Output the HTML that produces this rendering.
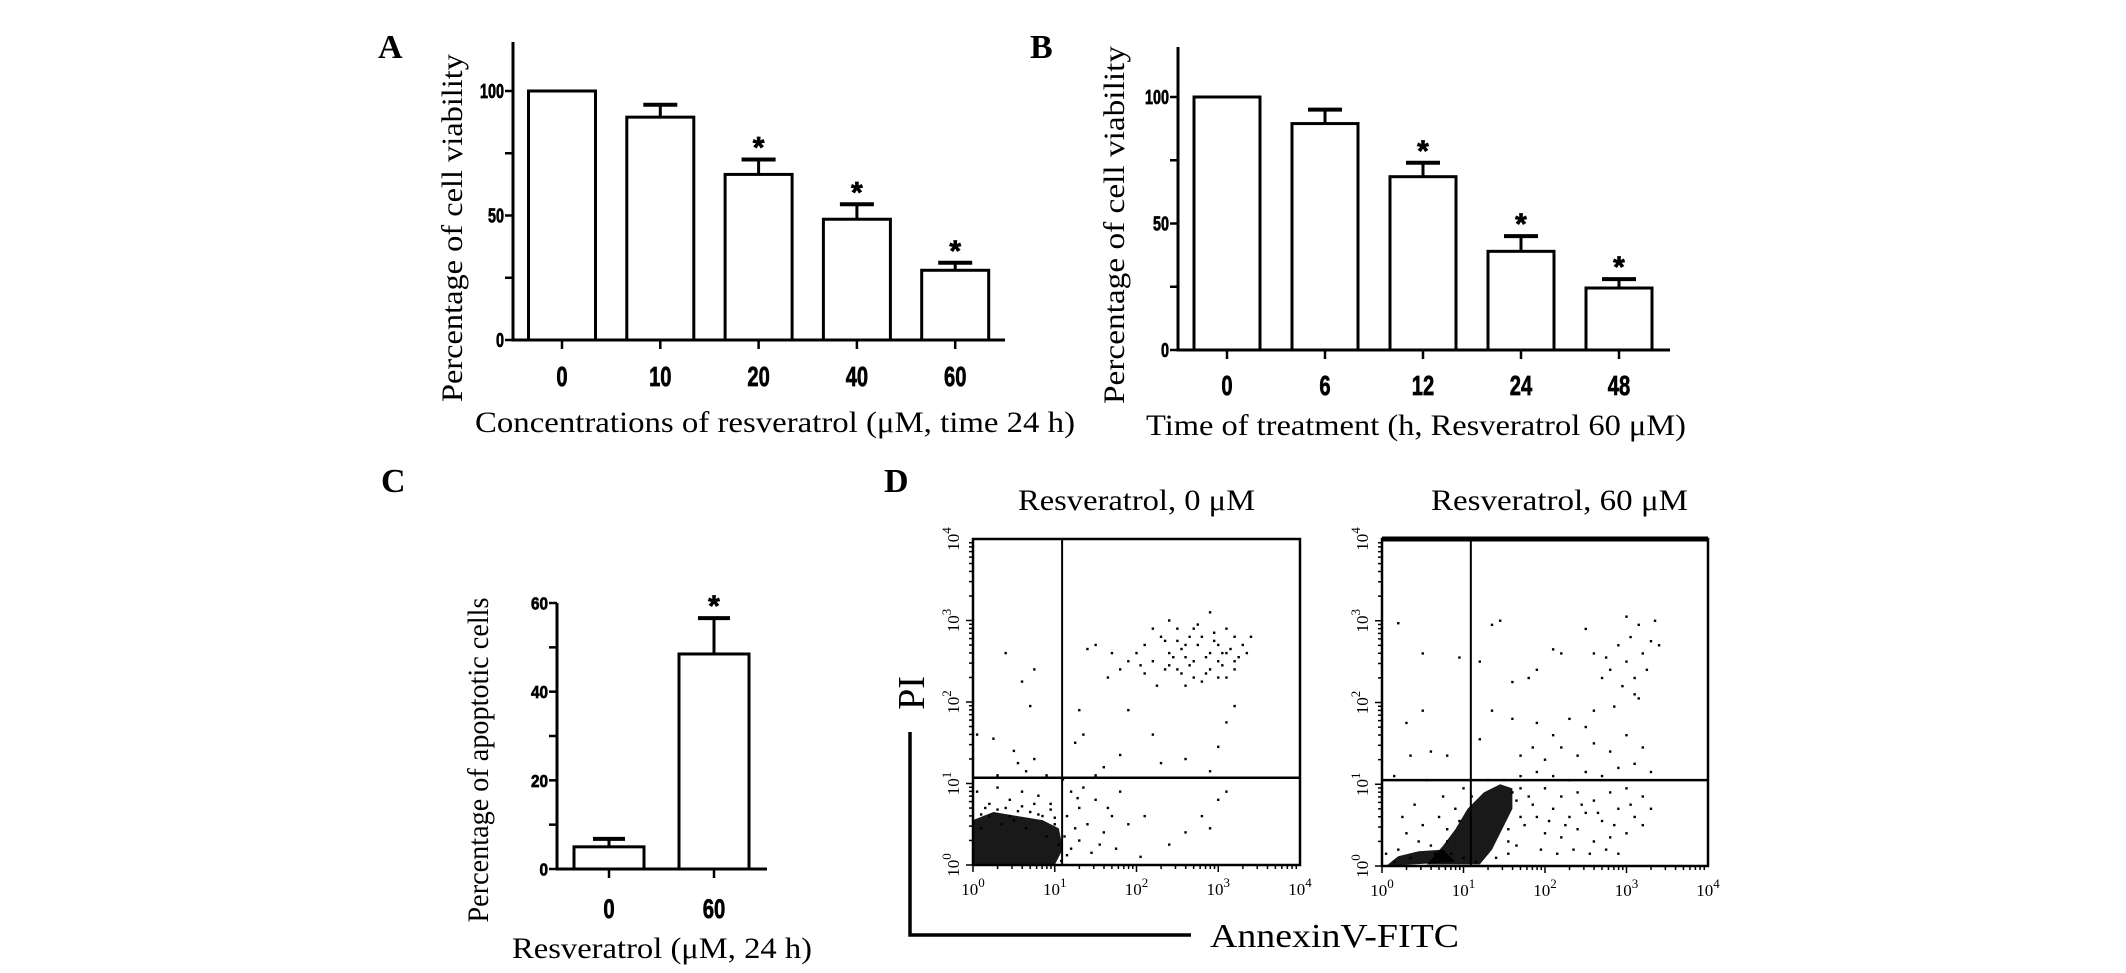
<!DOCTYPE html>
<html><head><meta charset="utf-8">
<style>
html,body{margin:0;padding:0;background:#fff;}
svg{display:block;}
.serif{font-family:"Liberation Serif",serif;fill:#000;}
.tick{font-family:"Liberation Sans",sans-serif;font-weight:bold;fill:#000;stroke:#000;stroke-width:0.7;}
</style></head>
<body>
<svg id="fig" width="2126" height="973" viewBox="0 0 2126 973" xmlns="http://www.w3.org/2000/svg">
<rect width="2126" height="973" fill="#fff"/>
<text class="serif" x="378" y="58" font-size="34" font-weight="bold">A</text>
<text class="serif" x="1030" y="58" font-size="34" font-weight="bold">B</text>
<text class="serif" x="381" y="492" font-size="34" font-weight="bold">C</text>
<text class="serif" x="884" y="492" font-size="34" font-weight="bold">D</text>
<g id="gA"></g>
<g id="gB"></g>
<g id="gC"></g>
<g id="gD"></g>
</svg>
<script>
// ---- Panel A data ----
const catsA = ["0","10","20","40","60"];
const valsA = [100, 89.5, 66.5, 48.5, 28];
const errA  = [0, 94.5, 72.5, 54.5, 31];
const sigA  = [false,false,true,true,true];
const yTicksA = [0,25,50,75,100];
const yLabelsA = ["0","","50","","100"];
// ---- Panel B data ----
const catsB = ["0","6","12","24","48"];
const valsB = [100, 89.5, 68.5, 39, 24.5];
const errB  = [0, 95, 74, 45, 28];
const sigB  = [false,false,true,true,true];
const yTicksB = [0,25,50,75,100];
const yLabelsB = ["0","","50","","100"];
// ---- Panel C data ----
const catsC = ["0","60"];
const valsC = [5, 48.5];
const errC  = [6.8, 56.6];
const sigC  = [false,true];
const yTicksC = [0,10,20,30,40,50,60];
const yLabelsC = ["0","","20","","40","","60"];
// ---- Panel D data (log10 units) ----
const ctrlPts = [[2.0,2.6],[2.1,2.7],[2.2,2.5],[2.3,2.8],[2.4,2.6],[2.5,2.4],[2.5,2.9],[2.6,2.7],[2.7,2.5],[2.7,2.3],[2.8,2.8],[2.9,2.6],[2.9,2.4],[3.0,2.7],[3.0,2.5],[3.1,2.6],[3.1,2.3],[3.2,2.8],[3.2,2.5],[3.3,2.7],[2.45,2.55],[2.55,2.65],[2.65,2.45],[2.75,2.7],[2.85,2.55],[2.95,2.75],[3.05,2.45],[3.15,2.65],[2.35,2.4],[2.25,2.2],[2.6,2.2],[2.8,2.25],[3.0,2.3],[2.1,2.35],[1.9,2.5],[1.8,2.4],[1.7,2.6],[1.65,2.3],[1.5,2.7],[1.4,2.65],[2.9,3.1],[2.75,2.95],[3.4,2.8],[3.35,2.6],[2.2,2.9],[2.4,3.0],[2.7,2.9],[3.2,2.4],[3.1,2.9],[2.5,2.75],[2.85,2.35],[2.95,2.85],[3.05,2.6],[2.6,2.55],[2.4,2.45],[2.55,2.35],[2.35,2.75],[3.25,2.55],[2.65,2.8],[2.05,2.45],
[0.4,2.6],[0.75,2.4],[0.7,1.95],[0.05,1.6],[0.25,1.55],[0.5,1.4],[0.75,1.3],[0.55,1.25],[0.3,1.1],[0.65,1.15],[0.9,1.1],[1.3,1.9],[1.5,1.1],[1.6,1.2],[1.8,1.35],[2.3,1.25],[2.6,1.3],[2.9,1.15],[3.0,1.45],[3.1,1.75],[3.2,1.95],[1.25,1.5],[1.35,1.6],[1.9,1.9],[2.2,1.6],[0.6,2.25],[1.1,1.05],
[1.2,0.9],[1.3,0.7],[1.4,0.5],[1.5,0.8],[1.3,0.3],[1.2,0.2],[1.45,0.15],[1.6,0.4],[1.7,0.6],[1.8,0.9],[1.9,0.5],[2.1,0.6],[2.4,0.25],[2.6,0.4],[2.8,0.6],[3.0,0.8],[2.9,0.45],[3.1,0.9],[2.05,0.1],[1.55,0.25],[1.35,0.95],[1.25,0.45],[1.75,0.2],[1.65,0.7],[1.15,0.6],[1.28,0.82],
[0.05,0.9],[0.15,0.7],[0.3,0.95],[0.45,0.8],[0.6,0.9],[0.8,0.85],[0.95,0.75],[0.7,0.65],[0.2,0.6],[0.5,0.55],[0.85,0.6],[1.0,0.5],[0.1,0.45],[0.35,0.5],[0.65,0.45],[0.9,0.35],[1.05,0.25],[0.4,0.7],[0.75,0.75],
[0.1,0.62],[0.3,0.68],[0.55,0.66],[0.8,0.62],[1.0,0.58],[1.12,0.35],[1.15,0.12],[0.95,0.68],[0.6,0.72],[0.2,0.75],[1.08,0.05],[0.45,0.6]];
const treatPts = [[0.2,2.97],[0.5,2.6],[0.5,1.9],[0.3,1.75],[0.6,1.4],[0.35,1.35],[0.15,1.1],[0.55,1.05],[0.8,1.35],[0.95,2.55],[1.2,2.5],[1.35,2.95],[1.45,3.0],[1.6,2.25],[1.8,2.3],[1.9,2.4],[2.1,2.65],[2.2,2.6],[2.5,2.9],[2.6,2.6],[2.7,2.3],[2.8,2.4],[2.9,2.7],[3.0,2.5],[3.05,2.8],[3.1,2.3],[3.15,2.95],[3.2,2.6],[3.25,2.4],[3.3,2.75],[3.35,3.0],[3.4,2.7],[2.95,2.2],[3.1,2.1],[2.85,1.95],[2.6,1.9],[2.5,1.7],[2.3,1.8],[2.1,1.6],[1.9,1.75],[1.6,1.8],[1.35,1.9],[1.2,1.55],[1.7,1.35],[1.85,1.45],[2.0,1.3],[2.2,1.45],[2.4,1.35],[2.6,1.5],[2.8,1.4],[3.0,1.6],[3.2,1.45],[3.3,1.15],[3.1,1.25],[2.9,1.2],[2.7,1.1],[2.5,1.15],[2.3,1.05],[2.1,1.1],[1.9,1.15],[1.7,1.1],[3.15,2.05],[2.75,2.55],[3.0,3.05],
[1.6,0.9],[1.8,0.85],[2.0,0.95],[2.2,0.85],[2.4,0.9],[2.6,0.8],[2.8,0.9],[3.0,0.95],[3.2,0.85],[3.3,0.7],[3.1,0.6],[2.9,0.7],[2.7,0.55],[2.5,0.65],[2.3,0.6],[2.1,0.7],[1.9,0.6],[1.75,0.5],[2.0,0.4],[2.2,0.35],[2.4,0.45],[2.6,0.3],[2.8,0.35],[3.0,0.4],[3.2,0.5],[2.55,0.15],[2.35,0.2],[2.15,0.15],[1.95,0.2],[2.75,0.2],[2.9,0.15],[1.65,0.25],[1.55,0.15],[2.05,0.55],[2.45,0.75],[2.65,0.65],[2.85,0.5],[3.05,0.75],[1.85,0.75],[2.25,0.5],
[0.2,0.2],[0.3,0.4],[0.45,0.3],[0.6,0.25],[0.5,0.5],[0.7,0.6],[0.8,0.45],[0.25,0.6],[0.4,0.75],[0.15,0.05],[0.05,0.15],[0.35,0.1],[0.65,0.05],[0.85,0.15],[1.0,0.1],[1.15,0.05],[0.9,0.7],[0.75,0.85],[1.0,0.95],
[1.65,0.8],[1.7,0.6],[1.55,0.45],[1.5,1.05],[1.3,1.05],[1.1,0.85],[0.95,0.55],[0.8,0.3],[0.65,0.15],[1.4,0.1],[1.55,0.3],[1.7,0.95]];
// blob outlines (log10 units) for the dense regions
const ctrlBlob = [[0,0],[0,0.55],[0.25,0.65],[0.55,0.6],[0.85,0.55],[1.05,0.45],[1.1,0.2],[1.0,0],[0,0]];
const treatBlob = [[0.55,0.02],[0.75,0.25],[0.9,0.45],[1.05,0.7],[1.25,0.9],[1.45,1.0],[1.6,0.95],[1.6,0.7],[1.45,0.4],[1.35,0.2],[1.2,0.02],[0.55,0.02]];
const treatBlob2 = [[0.05,0],[0.2,0.12],[0.45,0.18],[0.75,0.2],[0.9,0.05],[0.05,0]];

const NS="http://www.w3.org/2000/svg";
function mk(tag, attrs, parent){const e=document.createElementNS(NS,tag);for(const k in attrs)e.setAttribute(k,attrs[k]);parent.appendChild(e);return e;}

function barChart(g, o, cats, vals, errs, sig, yTicks, yLabels){
  const y = v => o.zero - (o.zero - o.top100) * v / o.vmax;
  const x = i => o.c0 + o.step * i;
  const ax = mk('line',{x1:o.ax,y1:o.axTop,x2:o.ax,y2:o.zero+1.5,stroke:'#000','stroke-width':3},g);
   
  const bx = mk('line',{x1:o.ax-1.5,y1:o.zero,x2:o.axEnd,y2:o.zero,stroke:'#000','stroke-width':3},g);
   
  yTicks.forEach((t,i)=>{
    const tk = mk('line',{x1:o.ax-8,y1:y(t),x2:o.ax,y2:y(t),stroke:'#000','stroke-width':2.5},g);
     
    if(yLabels[i]){
      const tx = mk('text',{class:'tick','text-anchor':'end','font-size':o.yfs,transform:`translate(${o.ax-9},${y(t)+o.yfs*0.36}) scale(${o.ysx},1)`},g);
      tx.textContent=yLabels[i];
       
    }
  });
  cats.forEach((c,i)=>{
    const cx=x(i);
    const tk = mk('line',{x1:cx,y1:o.zero,x2:cx,y2:o.zero+9,stroke:'#000','stroke-width':2.5},g);
     
    const tl = mk('text',{class:'tick','text-anchor':'middle','font-size':o.xfs,transform:`translate(${cx},${o.labY}) scale(${o.xsx},1)`},g);
    tl.textContent=c;
     
    if(errs[i]>vals[i]){
      const el = mk('line',{x1:cx,y1:y(vals[i]),x2:cx,y2:y(errs[i]),stroke:'#000','stroke-width':3},g);
       
      const cap = mk('line',{x1:cx-o.cap/2,y1:y(errs[i]),x2:cx+o.cap/2,y2:y(errs[i]),stroke:'#000','stroke-width':4},g);
       
    }
    const b = mk('rect',{x:cx-o.bw/2,y:y(vals[i]),width:o.bw,height:o.zero-y(vals[i]),fill:'#fff',stroke:'#000','stroke-width':3},g);
     
    if(sig[i]){
      const s = mk('text',{class:'tick','text-anchor':'middle','font-size':o.sfs,x:cx,y:y(errs[i])-o.sOff},g);
      s.textContent='*';
       
    }
  });
  const xt = mk('text',{class:'serif','text-anchor':'middle','font-size':o.tfs,x:o.xtX,y:o.xtY,textLength:o.xtW,lengthAdjust:'spacingAndGlyphs'},g);
  xt.textContent=o.xTitle;
   
  const yt = mk('text',{class:'serif','text-anchor':'middle','font-size':o.tfs,transform:`translate(${o.ytX},${o.ytY}) rotate(-90)`,textLength:o.ytW,lengthAdjust:'spacingAndGlyphs'},g);
  yt.textContent=o.yTitle;
   
}

barChart(document.getElementById('gA'),{ax:513,axTop:42,zero:340,top100:91,vmax:100,axEnd:1005,c0:562,step:98.3,bw:67,cap:34,
  yfs:20,ysx:0.72,xfs:28,xsx:0.72,labY:386,sfs:30,sOff:2,tfs:30,
  xTitle:"Concentrations of resveratrol (\u03BCM, time 24 h)",xtX:775,xtY:432,xtW:600,
  yTitle:"Percentage of cell viability",ytX:462,ytY:228,ytW:348},catsA,valsA,errA,sigA,yTicksA,yLabelsA);

barChart(document.getElementById('gB'),{ax:1178,axTop:47,zero:350,top100:97,vmax:100,axEnd:1670,c0:1227,step:98,bw:66,cap:34,
  yfs:20,ysx:0.72,xfs:28,xsx:0.72,labY:395,sfs:30,sOff:2,tfs:30,
  xTitle:"Time of treatment (h, Resveratrol 60 \u03BCM)",xtX:1416,xtY:435,xtW:540,
  yTitle:"Percentage of cell viability",ytX:1124,ytY:225,ytW:358},catsB,valsB,errB,sigB,yTicksB,yLabelsB);

barChart(document.getElementById('gC'),{ax:557,axTop:603,zero:869,top100:603,vmax:60,axEnd:767,c0:609,step:105,bw:70,cap:32,
  yfs:18,ysx:0.85,xfs:27,xsx:0.75,labY:918,sfs:30,sOff:2,tfs:30,
  xTitle:"Resveratrol (\u03BCM, 24 h)",xtX:662,xtY:958,xtW:300,
  yTitle:"Percentage of apoptotic cells",ytX:488,ytY:760,ytW:325},catsC,valsC,errC,sigC,yTicksC,yLabelsC);

// ---- Panel D ----
function flowPlot(g, o, pts, blobs){
  const sx = v => o.x0 + (o.x1-o.x0)*v/4;
  const sy = v => o.y1 - (o.y1-o.y0)*v/4;
  blobs.forEach(bl=>{
    const p = mk('polygon',{points:bl.map(q=>sx(q[0])+','+sy(q[1])).join(' '),fill:'#000',opacity:0.9},g);
     
  });
  pts.forEach(q=>{
    const d = mk('rect',{x:sx(q[0])-1.2,y:sy(q[1])-1.2,width:2.4,height:2.4,fill:'#000'},g);
     
  });
  const fr = mk('rect',{x:o.x0,y:o.y0,width:o.x1-o.x0,height:o.y1-o.y0,fill:'none',stroke:'#000','stroke-width':2.5},g);
   
  if(o.thickTop){const t=mk('line',{x1:o.x0,y1:o.y0,x2:o.x1,y2:o.y0,stroke:'#000','stroke-width':5},g);
     }
  const gv = mk('line',{x1:sx(o.gx),y1:o.y0,x2:sx(o.gx),y2:o.y1,stroke:'#000','stroke-width':2},g);
   
  const gh = mk('line',{x1:o.x0,y1:sy(o.gy),x2:o.x1,y2:sy(o.gy),stroke:'#000','stroke-width':2.5},g);
   
  for(let dec=0;dec<4;dec++){
    for(let m=1;m<10;m++){
      const v = dec+Math.log10(m);
      const L = m===1?7:4;
      const a=mk('line',{x1:sx(v),y1:o.y1,x2:sx(v),y2:o.y1+L,stroke:'#000','stroke-width':1.5},g);
       
      const b=mk('line',{x1:o.x0-L,y1:sy(v),x2:o.x0,y2:sy(v),stroke:'#000','stroke-width':1.5},g);
       
    }
  }
  for(let dec=0;dec<=4;dec++){
    const t = mk('text',{class:'serif','text-anchor':'middle','font-size':17,x:sx(dec),y:o.y1+30},g);
    t.innerHTML='10<tspan dy="-8" font-size="13">'+dec+'</tspan>';
     
    const u = mk('text',{class:'serif','text-anchor':'middle','font-size':17,transform:`translate(${o.x0-14},${sy(dec)}) rotate(-90)`},g);
    u.innerHTML='10<tspan dy="-8" font-size="13">'+dec+'</tspan>';
     
  }
  const tt = mk('text',{class:'serif','text-anchor':'middle','font-size':30,x:(o.tx0+o.tx1)/2,y:510,textLength:o.tx1-o.tx0,lengthAdjust:'spacingAndGlyphs'},g);
  tt.textContent=o.title;
   
}
const gD=document.getElementById('gD');
flowPlot(gD,{x0:973,x1:1300,y0:539,y1:865,gx:1.09,gy:1.07,title:"Resveratrol, 0 \u03BCM",tx0:1018,tx1:1255},ctrlPts,[ctrlBlob]);
flowPlot(gD,{x0:1382,x1:1708,y0:539,y1:866,gx:1.09,gy:1.05,thickTop:true,title:"Resveratrol, 60 \u03BCM",tx0:1431,tx1:1688},treatPts,[treatBlob,treatBlob2]);
const lAx = mk('polyline',{points:'910,732 910,935 1191,935',fill:'none',stroke:'#000','stroke-width':3.5},gD);
 
const pi = mk('text',{class:'serif','text-anchor':'middle','font-size':38,transform:'translate(924,693) rotate(-90)'},gD);
pi.textContent='PI';
 
const ann = mk('text',{class:'serif','font-size':34,x:1210,y:947,textLength:249,lengthAdjust:'spacingAndGlyphs'},gD);
ann.textContent='AnnexinV-FITC';
 
</script>
</body></html>
